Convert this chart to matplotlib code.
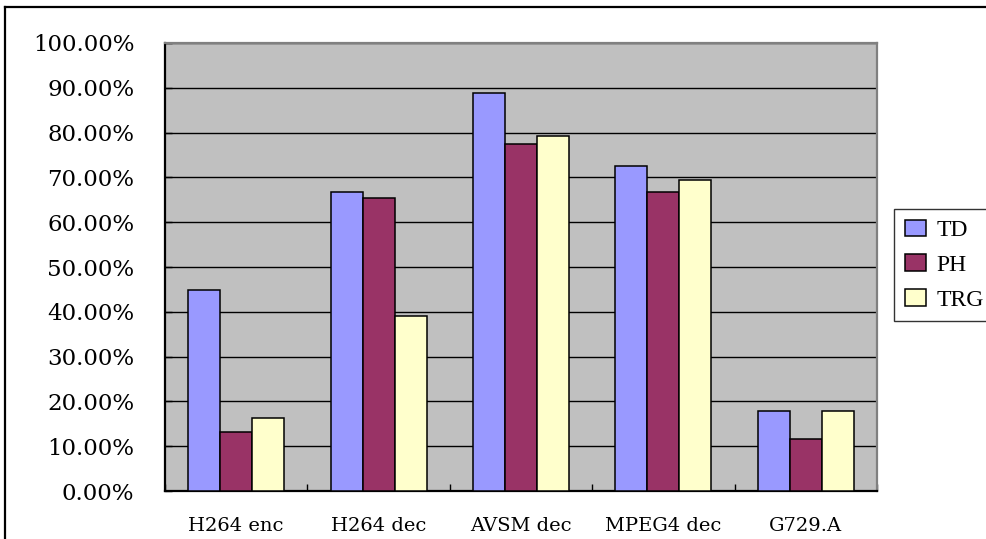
import matplotlib
matplotlib.use("Agg")
import matplotlib.pyplot as plt
import numpy as np
from matplotlib.ticker import FuncFormatter, MultipleLocator, FixedLocator
from matplotlib.lines import Line2D

categories = ["H264 enc", "H264 dec", "AVSM dec", "MPEG4 dec", "G729.A"]
series_names = ["TD", "PH", "TRG"]
td = [44.9, 66.7, 88.8, 72.5, 17.8]
ph = [13.2, 65.3, 77.5, 66.7, 11.7]
trg = [16.4, 39.1, 79.2, 69.4, 17.8]
colors = ["#9999FF", "#993366", "#FFFFCC"]

W, H = 987, 539
fig = plt.figure(figsize=(W / 100, H / 100), dpi=100)
fig.patch.set_facecolor("white")

ax = fig.add_axes([165 / W, 1 - 491 / H, (877 - 165) / W, (491 - 43) / H])
ax.set_facecolor("#C0C0C0")

x = np.arange(len(categories))
bw = 0.225
for i, (vals, name) in enumerate(zip([td, ph, trg], series_names)):
    ax.bar(x + (i - 1) * bw, vals, width=bw, color=colors[i],
           edgecolor="black", linewidth=1.1, label=name, zorder=3)

ax.set_xlim(-0.5, len(categories) - 0.5)
ax.set_ylim(0, 100)
ax.yaxis.set_major_locator(MultipleLocator(10))
ax.yaxis.set_major_formatter(FuncFormatter(lambda v, p: f"{v:.2f}%"))
ax.grid(axis="y", color="black", linewidth=1.0, zorder=1)
ax.set_axisbelow(True)

ax.set_xticks(x)
ax.set_xticklabels(categories)
ax.xaxis.set_minor_locator(FixedLocator(np.arange(-0.5, len(categories), 1.0)))
ax.tick_params(axis="x", which="major", length=0, pad=19,
               labelsize=14, labelfontfamily="DejaVu Serif")
ax.tick_params(axis="x", which="minor", direction="in", length=5, width=1)
ax.tick_params(axis="y", direction="in", length=5, width=1, pad=22,
               labelsize=16.5, labelfontfamily="DejaVu Serif")

for s in ["left", "bottom"]:
    ax.spines[s].set_color("black")
    ax.spines[s].set_linewidth(1.6)
for s in ["top", "right"]:
    ax.spines[s].set_color("#808080")
    ax.spines[s].set_linewidth(1.6)

leg = fig.legend(loc="upper left", bbox_to_anchor=(894 / W, 1 - 209 / H),
                 frameon=True, fancybox=False, borderaxespad=0,
                 prop={"family": "Liberation Serif", "size": 17},
                 handlelength=0.9, handleheight=0.72, handletextpad=0.45,
                 labelspacing=0.55, borderpad=0.45)
leg.get_frame().set_edgecolor("black")
leg.get_frame().set_linewidth(1.0)

# chart-area frame (left and top edges)
fig.add_artist(Line2D([5 / W, 5 / W], [0, 1 - 7 / H], transform=fig.transFigure,
                      color="black", linewidth=1.6))
fig.add_artist(Line2D([5 / W, 1], [1 - 7 / H, 1 - 7 / H], transform=fig.transFigure,
                      color="black", linewidth=1.6))

fig.savefig("out.png", dpi=100)
